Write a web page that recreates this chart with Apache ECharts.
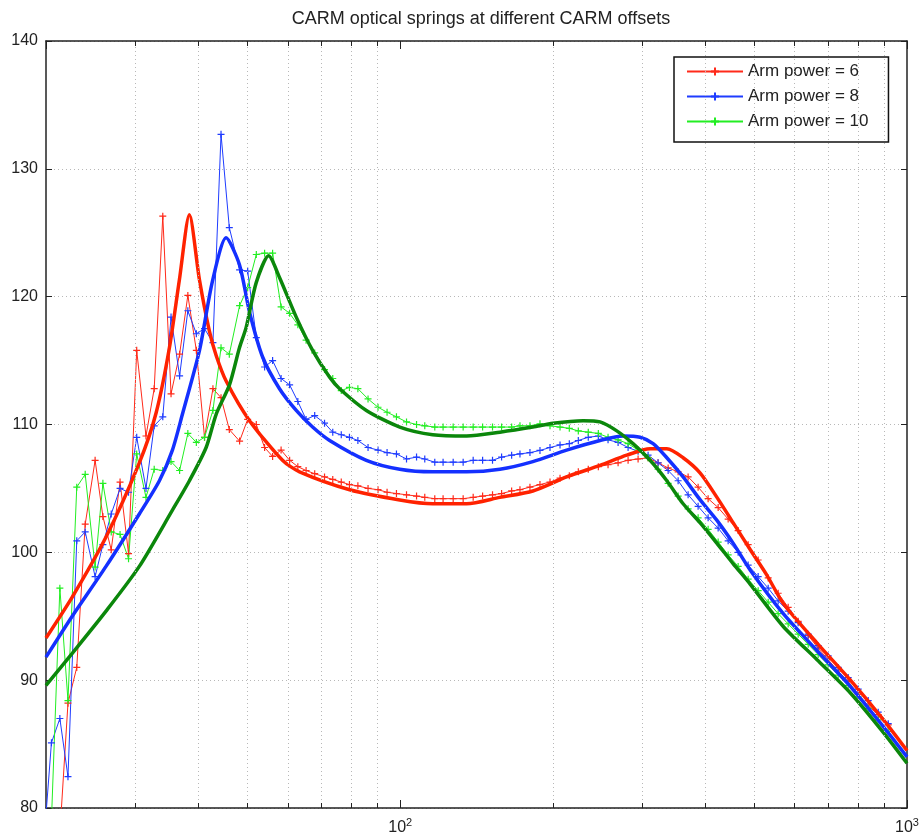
<!DOCTYPE html>
<html>
<head>
<meta charset="utf-8">
<script src="https://cdn.jsdelivr.net/npm/echarts@6/dist/echarts.min.js"></script>
<style>html,body{margin:0;padding:0;background:#fff}#c{width:924px;height:839px}</style>
</head>
<body>
<div id="c"></div>
<script>
const chartTitle = 'CARM optical springs at different CARM offsets';
const legendNames = ['Arm power = 6', 'Arm power = 8', 'Arm power = 10'];
const modelNames = ['Model, arm power = 6', 'Model, arm power = 8', 'Model, arm power = 10'];

// measured frequencies (Hz)
const freqMeas = [20.0, 20.5, 21.3, 22.1, 23.0, 23.9, 25.0, 25.9, 26.9, 28.0, 29.1, 30.2, 31.5, 32.7, 34.0, 35.3, 36.7, 38.1, 39.6, 41.1,
  42.7, 44.3, 46.0, 48.2, 50.0, 52.0, 54.0, 56.0, 58.2, 60.5, 62.8, 65.2, 67.8, 70.9, 73.6, 76.5, 79.4, 82.5, 86.4, 90.4,
  94.2, 98.3, 102.9, 107.7, 111.8, 117.0, 121.5, 127.2, 133.1, 139.3, 145.4, 152.1, 158.5, 165.9, 172.3, 180.3, 188.7, 197.5, 206.7, 215.6,
  224.6, 235.0, 246.0, 257.1, 269.1, 281.6, 294.7, 308.4, 322.7, 337.8, 353.5, 369.9, 387.1, 405.1, 424.0, 443.7, 464.3, 485.9, 508.5, 532.2,
  556.9, 582.8, 609.9, 638.3, 667.9, 699.0, 731.5, 765.5, 801.1, 838.4, 877.4, 918.2];

const measP6 = [72, 75, 78, 88.2, 91.0, 102.2, 107.2, 102.8, 100.2, 105.5, 99.9, 115.8, 109.1, 112.8, 126.3, 112.4, 115.5, 120.1, 115.8, 109.0,
  112.8, 112.1, 109.6, 108.7, 110.4, 110.0, 108.2, 107.5, 108.0, 107.2, 106.7, 106.4, 106.15, 105.9, 105.7, 105.5, 105.3, 105.2, 105.0, 104.9,
  104.7, 104.6, 104.5, 104.4, 104.3, 104.2, 104.2, 104.2, 104.2, 104.3, 104.4, 104.5, 104.6, 104.8, 104.9, 105.1, 105.3, 105.5, 105.8, 106.0,
  106.3, 106.5, 106.7, 106.85, 107.0, 107.2, 107.3, 107.4, 107.0, 106.6, 106.3, 105.9, 105.1, 104.2, 103.5, 102.6, 101.7, 100.6, 99.4, 98.0,
  96.8, 95.7, 94.6, 93.5, 92.5, 91.6, 90.7, 89.9, 88.9, 88.0, 87.3, 86.5];

const measP8 = [79.5, 85.1, 87.0, 82.45, 100.9, 101.6, 98.1, 100.6, 103.0, 105.0, 104.7, 109.0, 105.0, 109.9, 110.6, 118.4, 113.8, 118.9, 117.1, 117.5,
  116.4, 132.7, 125.4, 122.1, 122.0, 116.8, 114.5, 115.0, 113.6, 113.1, 111.8, 110.4, 110.7, 110.1, 109.4, 109.2, 109.0, 108.75, 108.2, 108.0,
  107.8, 107.7, 107.3, 107.45, 107.3, 107.05, 107.05, 107.05, 107.05, 107.2, 107.2, 107.2, 107.45, 107.6, 107.7, 107.8, 107.97, 108.2, 108.4, 108.5,
  108.75, 109.0, 109.1, 108.8, 108.6, 108.2, 107.9, 107.6, 107.0, 106.4, 105.6, 104.5, 103.6, 102.7, 101.9, 100.9, 100.0, 99.0, 98.1, 97.2,
  96.2, 95.4, 94.5, 93.6, 92.7, 91.9, 91.0, 90.2, 89.3, 88.4, 87.5, 86.6];

const measP10 = [77, 79.0, 97.2, 88.4, 105.1, 106.1, 98.85, 105.4, 101.6, 101.4, 99.5, 107.7, 104.3, 106.5, 106.4, 107.1, 106.4, 109.3, 108.6, 109.0,
  111.1, 116.0, 115.5, 119.3, 120.7, 123.3, 123.4, 123.4, 119.2, 118.7, 117.8, 116.6, 115.6, 114.3, 113.6, 112.65, 112.9, 112.8, 112.0, 111.35,
  110.96, 110.6, 110.2, 110.0, 109.9, 109.8, 109.8, 109.8, 109.8, 109.8, 109.8, 109.8, 109.8, 109.8, 109.9, 109.9, 110.05, 109.9, 109.8, 109.7,
  109.5, 109.4, 109.3, 109.0, 108.8, 108.5, 108.0, 107.4, 106.5, 105.4, 104.4, 103.4, 102.7, 101.8, 100.8, 99.8, 98.9, 97.9, 97.0, 96.1,
  95.2, 94.4, 93.6, 92.8, 92.0, 91.2, 90.4, 89.6, 88.7, 87.8, 86.9, 86.0];

// model curves
const freqModelP6 = [20.0, 22.53, 26.27, 30.56, 32.98, 35.04, 36.66, 38.37, 40.17, 42.02, 43.33, 45.34, 50.42, 58.57, 63.29, 79.48, 99.8, 115.9, 135.2, 157.3,
  182.7, 213.0, 247.9, 279.9, 311.2, 335.8, 361.6, 390.8, 421.7, 454.1, 490.7, 529.3, 570.0, 664.5, 773.3, 898.6, 1000];
const modelP6 = [93.3, 96.5, 101.2, 107.0, 110.9, 116.0, 121.3, 126.4, 121.3, 117.3, 115.4, 113.4, 110.3, 107.2, 106.3, 104.9, 104.1, 103.8, 103.8, 104.3,
  104.8, 105.9, 106.8, 107.6, 108.1, 108.1, 107.4, 106.2, 104.3, 102.3, 100.2, 98.2, 96.0, 92.9, 90.0, 86.9, 84.5];

const freqModelP8 = [20.0, 22.53, 26.27, 30.56, 33.48, 35.52, 37.17, 40.17, 42.60, 45.34, 48.17, 50.42, 53.49, 57.78, 62.35, 67.16, 72.56, 85.74, 99.8, 115.9,
  135.2, 157.3, 182.7, 213.0, 247.9, 275.3, 297.4, 315.5, 335.8, 361.6, 390.8, 421.7, 454.1, 490.7, 570.0, 664.5, 773.3, 898.6, 1000];
const modelP8 = [91.8, 95.0, 98.9, 103.0, 105.6, 108.0, 110.8, 115.8, 121.2, 124.6, 122.5, 118.8, 115.3, 112.8, 111.1, 109.8, 108.75, 107.2, 106.5, 106.3,
  106.3, 106.5, 107.1, 108.0, 108.75, 109.1, 109.0, 108.5, 107.4, 105.9, 104.1, 102.5, 100.7, 98.6, 95.2, 92.3, 89.5, 86.35, 84.0];

const freqModelP10 = [20.0, 22.53, 26.27, 30.56, 35.52, 38.37, 41.40, 43.33, 46.03, 48.17, 49.66, 51.98, 55.0, 57.78, 62.35, 67.16, 72.56, 75.93, 85.74, 99.8,
  115.9, 135.2, 157.3, 182.7, 200.1, 229.5, 247.9, 267.5, 288.0, 311.2, 335.8, 361.6, 390.8, 421.7, 454.1, 490.7, 570.0, 664.5, 773.3, 898.6, 1000];
const modelP10 = [89.6, 92.1, 95.4, 98.9, 103.3, 105.6, 108.2, 110.8, 113.1, 116.0, 117.6, 121.1, 123.2, 121.5, 118.4, 115.8, 113.7, 112.8, 111.1, 109.8,
  109.2, 109.1, 109.4, 109.8, 110.1, 110.3, 110.2, 109.5, 108.5, 107.2, 105.6, 103.8, 102.3, 100.7, 99.1, 97.5, 94.2, 91.6, 89.0, 85.9, 83.5];

// axis ticks
const xMinorTicks = [30, 40, 50, 60, 70, 80, 90, 200, 300, 400, 500, 600, 700, 800, 900];
const xMin = 20, xMax = 1000, yMin = 80, yMax = 140, yStep = 10;

const FONT = '"Liberation Sans", Arial, Helvetica, sans-serif';
const plusSymbol = 'path://M0,5L10,5M5,0L5,10';
const measColors = ['#ff2a1a', '#1f3cff', '#22ee22'];
const modelColors = ['#ff2200', '#1430ff', '#0b870b'];

function pairs(xs, ys) { return xs.map((x, i) => [x, ys[i]]); }

const measData = [measP6, measP8, measP10];
const modelFreqs = [freqModelP6, freqModelP8, freqModelP10];
const modelData = [modelP6, modelP8, modelP10];

const series = [];
// grid lines (dotted) at the minor decades
series.push({
  type: 'line', name: '_grid', data: [], z: 1, silent: true, animation: false,
  markLine: {
    silent: true, symbol: 'none', animation: false, label: { show: false },
    lineStyle: { type: [1, 3], color: '#b8b8b8', width: 1 },
    emphasis: { disabled: true },
    data: xMinorTicks.map(v => ({ xAxis: v }))
  }
});
// minor ticks on bottom and top axes
const tickLen = (yMax - yMin) * 5 / 767;
series.push({
  type: 'line', name: '_ticks', data: [], z: 5, silent: true, animation: false,
  markLine: {
    silent: true, symbol: 'none', animation: false, label: { show: false },
    lineStyle: { type: 'solid', color: '#222', width: 1 },
    emphasis: { disabled: true },
    data: xMinorTicks.map(v => [{ coord: [v, yMin] }, { coord: [v, yMin + tickLen] }])
      .concat(xMinorTicks.map(v => [{ coord: [v, yMax] }, { coord: [v, yMax - tickLen] }]))
  }
});
for (let i = 0; i < 3; i++) {
  series.push({
    type: 'line', name: legendNames[i], data: pairs(freqMeas, measData[i]),
    symbol: plusSymbol, symbolSize: 7, showSymbol: true, clip: true,
    lineStyle: { width: 1, color: measColors[i] },
    itemStyle: { color: measColors[i], borderColor: measColors[i], borderWidth: 1.2 },
    emphasis: { disabled: true }, z: 2, animation: false
  });
}
for (let i = 0; i < 3; i++) {
  series.push({
    type: 'line', name: modelNames[i], data: pairs(modelFreqs[i], modelData[i]),
    symbol: 'none', showSymbol: false, clip: true, smooth: 0.25,
    lineStyle: { width: 3.5, color: modelColors[i] },
    itemStyle: { color: modelColors[i] },
    emphasis: { disabled: true }, z: 3, animation: false
  });
}

const axisLineStyle = { color: '#222', width: 1.5 };
const chart = echarts.init(document.getElementById('c'), null, { renderer: 'canvas' });
chart.setOption({
  animation: false,
  backgroundColor: '#fff',
  textStyle: { fontFamily: FONT },
  title: {
    text: chartTitle, left: 476, top: 5, textAlign: 'center',
    textStyle: { fontFamily: FONT, fontSize: 18, fontWeight: 'normal', color: '#222' }
  },
  grid: { left: 46, right: 17, top: 41, bottom: 31, containLabel: false, outerBoundsMode: 'none' },
  legend: {
    data: legendNames, orient: 'vertical', left: 674, top: 57,
    backgroundColor: '#fff', borderColor: '#111', borderWidth: 1.5, borderRadius: 0,
    padding: [6, 20, 12, 12], itemGap: 8, itemWidth: 56, itemHeight: 10,
    textStyle: { fontFamily: FONT, fontSize: 17, color: '#222' }
  },
  xAxis: [
    {
      type: 'log', logBase: 10, min: xMin, max: xMax, position: 'bottom',
      axisLine: { show: true, onZero: false, lineStyle: axisLineStyle },
      axisTick: { show: true, inside: true, length: 8, lineStyle: { color: '#222', width: 1 } },
      splitLine: { show: false },
      axisLabel: {
        margin: 9, color: '#222', fontFamily: FONT, showMinLabel: false,
        formatter: v => {
          const k = Math.round(Math.log10(v));
          if (Math.abs(Math.pow(10, k) - v) > 1e-6) return '';
          return '{b|10}{s|' + k + '}';
        },
        rich: {
          b: { fontSize: 16, fontFamily: FONT, color: '#222' },
          s: { fontSize: 11, fontFamily: FONT, color: '#222', verticalAlign: 'top', padding: [0, 0, 10, 0] }
        }
      }
    },
    {
      type: 'log', logBase: 10, min: xMin, max: xMax, position: 'top',
      axisLine: { show: true, onZero: false, lineStyle: axisLineStyle },
      axisTick: { show: true, inside: true, length: 8, lineStyle: { color: '#222', width: 1 } },
      splitLine: { show: false }, axisLabel: { show: false }
    }
  ],
  yAxis: [
    {
      type: 'value', min: yMin, max: yMax, interval: yStep, position: 'left',
      axisLine: { show: true, onZero: false, lineStyle: axisLineStyle },
      axisTick: { show: true, inside: true, length: 6, lineStyle: { color: '#222', width: 1 } },
      splitLine: { show: true, lineStyle: { type: [1, 3], color: '#b8b8b8', width: 1 } },
      axisLabel: { margin: 8, fontSize: 16, color: '#222', fontFamily: FONT }
    },
    {
      type: 'value', min: yMin, max: yMax, interval: yStep, position: 'right',
      axisLine: { show: true, onZero: false, lineStyle: axisLineStyle },
      axisTick: { show: true, inside: true, length: 6, lineStyle: { color: '#222', width: 1 } },
      splitLine: { show: false }, axisLabel: { show: false }
    }
  ],
  series: series
});
</script>
</body>
</html>
